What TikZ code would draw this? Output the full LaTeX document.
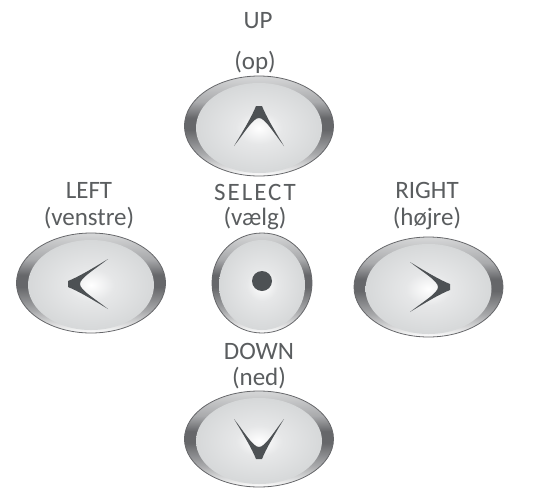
\documentclass[tikz,border=0pt]{standalone}
\usepackage{fontspec}
\setmainfont{Carlito}
\definecolor{ringdark}{HTML}{66676A}
\definecolor{ringmid}{HTML}{A9AAAC}
\definecolor{ringtop}{HTML}{D6D7D8}
\definecolor{capmid}{HTML}{E6E7E8}
\definecolor{capedge}{HTML}{D6D8D9}
\definecolor{markgray}{HTML}{4D5154}
\definecolor{labelgray}{HTML}{5A5D5F}
\pgfdeclareverticalshading{ringshade}{100bp}{color(0bp)=(white);color(25bp)=(white);
  color(36bp)=(ringmid);color(48bp)=(ringdark);color(54bp)=(ringdark);color(62bp)=(ringmid);
  color(75bp)=(ringtop);color(100bp)=(ringtop)}
\pgfdeclareradialshading{capshade}{\pgfpoint{0bp}{0bp}}{color(0bp)=(white);
  color(9bp)=(capmid);color(25bp)=(capedge);color(50bp)=(capedge)}
\tikzset{
  ring/.style={draw=ringdark,line width=.8pt,shading=ringshade},
  capface/.style={shading=capshade},
  lbl/.style={text=labelgray,font=\fontsize{25}{27}\selectfont,inner sep=0pt},
  chevron/.pic={
    \fill[markgray] (-3,-20) -- (3,-20) .. controls (7,-10) and (14,2) .. (25,20)
      .. controls (14,6) and (6,-8) .. (0,-8) .. controls (-6,-8) and (-14,6) .. (-25,20)
      .. controls (-14,2) and (-7,-10) .. cycle;
  }
}
\begin{document}
\begin{tikzpicture}[x=1pt,y=-1pt]
  \useasboundingbox (0,0) rectangle (555,488);
  % up
  \draw[ring] (259,126) ellipse [x radius=74.5,y radius=50];
  \shade[capface] (259,128) ellipse [x radius=63,y radius=45];
  \pic at (259,126) {chevron};
  \node[lbl] (uplbl) at (258,21) {UP};
  \node[lbl] (oplbl) at (255,62) {(op)};
  % left
  \draw[ring] (91,283) ellipse [x radius=74.5,y radius=50];
  \shade[capface] (91,285) ellipse [x radius=63,y radius=45];
  \pic[rotate=90] at (88,284) {chevron};
  \node[lbl] (leftlbl) at (89,190) {LEFT};
  \node[lbl] (venstrelbl) at (89,218) {(venstre)};
  % select
  \draw[ring] (262,283) ellipse [x radius=50,y radius=50];
  \shade[capface] (262,285) ellipse [x radius=43,y radius=45];
  \fill[markgray] (262,281) circle (10);
  \node[lbl] (selectlbl) at (255,192) {\addfontfeature{LetterSpace=8}SELECT};
  \node[lbl] (vaelglbl) at (255,219) {(vælg)};
  % right
  \draw[ring] (428.5,287) ellipse [x radius=74.5,y radius=50];
  \shade[capface] (428.5,289) ellipse [x radius=63,y radius=45];
  \pic[rotate=-90] at (430,287) {chevron};
  \node[lbl] (rightlbl) at (427,190) {RIGHT};
  \node[lbl] (hojrelbl) at (427,218) {(højre)};
  % down
  \draw[ring] (259,439) ellipse [x radius=74.5,y radius=48];
  \shade[capface] (259,441) ellipse [x radius=63,y radius=43];
  \pic[rotate=180] at (259,439) {chevron};
  \node[lbl] (downlbl) at (259,351) {DOWN};
  \node[lbl] (nedlbl) at (259,378) {(ned)};
\end{tikzpicture}
\end{document}
